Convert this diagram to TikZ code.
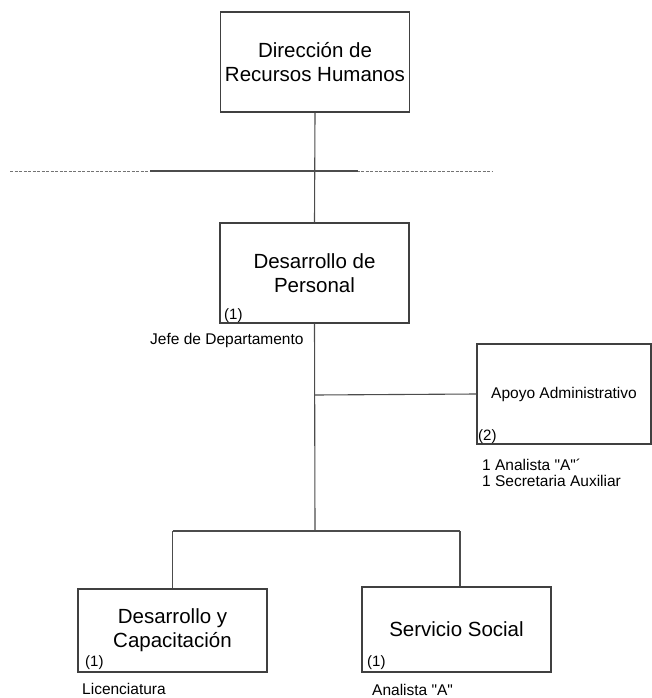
\documentclass[tikz,border=0pt]{standalone}
\usepackage{fontspec}
\setmainfont{Liberation Sans}[Ligatures=TeXOff]
\begin{document}
\begin{tikzpicture}[x=1pt,y=-1pt,
  unit/.style={draw=black!75,line width=1.1pt,align=center,inner sep=0pt,
    font=\fontsize{20.5}{24}\selectfont},
  line/.style={draw=black!70,line width=1.1pt},
  note/.style={inner sep=0pt,font=\fontsize{15.5}{16}\selectfont,anchor=base west},
  cnt/.style={inner sep=0pt,font=\fontsize{15}{16}\selectfont,anchor=base west}]
\useasboundingbox (0,0) rectangle (652,698);
\node[unit,minimum width=189pt,minimum height=100pt] (top) at (315,62) {Dirección de\\Recursos Humanos};
\node[unit,minimum width=189pt,minimum height=100pt] (mid) at (314.5,273) {Desarrollo de\\Personal};
\node[unit,minimum width=174pt,minimum height=100pt,font=\fontsize{15.5}{18}\selectfont] (apo) at (564,394) {Apoyo Administrativo};
\node[unit,minimum width=189pt,minimum height=83pt] (dyc) at (172.5,630.5) {Desarrollo y\\Capacitación};
\node[unit,minimum width=189pt,minimum height=85pt] (ss) at (456.5,629.5) {Servicio Social};
% counts
\node[cnt] (c1) at (224,319) {(1)};
\node[cnt] (c2) at (478,440) {(2)};
\node[cnt] (c3) at (85,666) {(1)};
\node[cnt] (c4) at (367,666) {(1)};
% notes
\node[note] (n1) at (150,344) {Jefe de Departamento};
\node[note] (n2) at (482,470) {1 Analista "A"´};
\node[note] (n3) at (482,486) {1 Secretaria Auxiliar};
\node[note] (n4) at (82,694) {Licenciatura};
\node[note] (n5) at (372,695) {Analista "A"};
% dashed line
\coordinate (dl) at (10,171);
\coordinate (dr) at (493,171);
\coordinate (sl) at (150,171);
\coordinate (sr) at (358,171);
\draw[black!55,line width=0.9pt,dash pattern=on 3pt off 1.5pt] (dl) -- (dr);
\draw[black!70,line width=1.1pt] (sl) -- (sr);
% connectors
\coordinate (ja) at (315,395);
\coordinate (jb) at (315,531);
\coordinate (jl) at (172.5,531);
\coordinate (jr) at (460,531);
\draw[line] (top.south) -- (mid.north);
\draw[line] (mid.south) -- (jb);
\draw[line] (ja) -- (apo.west);
\draw[line] (jl) -- (jr);
\draw[line] (jl) -- (dyc.north);
\draw[line] (jr) -- (jr |- ss.north);
\end{tikzpicture}
\end{document}
